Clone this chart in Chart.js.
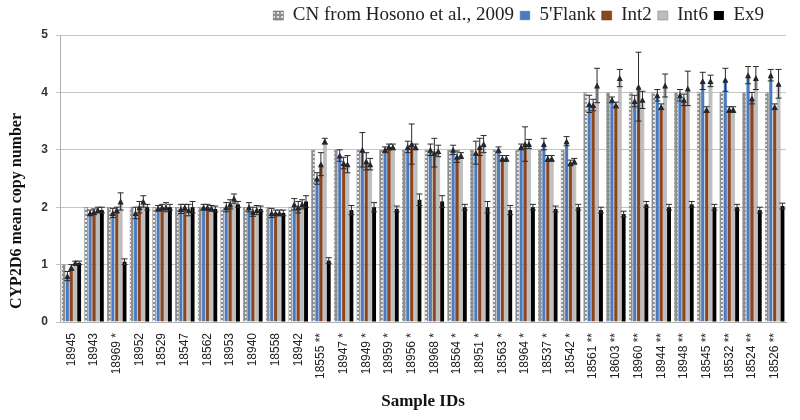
<!DOCTYPE html>
<html>
<head>
<meta charset="utf-8">
<script src="https://cdn.jsdelivr.net/npm/chart.js@4.4.1/dist/chart.umd.min.js"></script>
<style>
  html, body { margin: 0; padding: 0; background: #fff; }
  #wrap { width: 800px; height: 420px; }
</style>
</head>
<body>
<div id="wrap"><canvas id="chart"></canvas></div>
<script>
const sampleIds = ["18945", "18943", "18969 *", "18952", "18529", "18547", "18562", "18953", "18940", "18558", "18942",
  "18555 **", "18947 *", "18949 *", "18959 *", "18956 *", "18968 *", "18564 *", "18951 *", "18563 *", "18964 *", "18537 *", "18542 *",
  "18561 **", "18603 **", "18960 **", "18944 **", "18948 **", "18545 **", "18532 **", "18524 **", "18526 **"];

const cnValues = [1, 2, 2, 2, 2, 2, 2, 2, 2, 2, 2,
  3, 3, 3, 3, 3, 3, 3, 3, 3, 3, 3, 3,
  4, 4, 4, 4, 4, 4, 4, 4, 4];
const flank5 = [0.8, 1.9, 1.9, 1.9, 1.98, 1.97, 2.0, 2.0, 2.0, 1.9, 2.05,
  2.5, 2.9, 3.0, 3.0, 3.05, 3.0, 3.0, 2.95, 3.0, 3.05, 3.1, 3.15,
  3.8, 3.87, 3.85, 3.95, 3.95, 4.2, 4.22, 4.3, 4.3];
const int2 = [0.95, 1.92, 1.95, 2.0, 2.0, 2.0, 2.0, 2.05, 1.92, 1.9, 2.0,
  2.75, 2.77, 2.8, 3.05, 3.1, 2.95, 2.88, 3.05, 2.85, 3.1, 2.85, 2.77,
  3.78, 3.78, 4.1, 3.75, 3.87, 3.7, 3.7, 3.9, 3.75];
const int6 = [1.03, 1.95, 2.1, 2.1, 2.0, 1.95, 1.98, 2.15, 1.95, 1.9, 2.05,
  3.15, 2.75, 2.75, 3.05, 3.05, 2.98, 2.9, 3.1, 2.85, 3.1, 2.85, 2.8,
  4.12, 4.25, 3.87, 4.12, 4.07, 4.2, 3.7, 4.25, 4.15];
const ex9 = [1.03, 1.95, 1.05, 2.0, 2.0, 2.0, 1.97, 2.05, 1.97, 1.9, 2.1,
  1.07, 1.95, 2.0, 1.97, 2.13, 2.1, 2.0, 2.0, 1.95, 2.0, 1.97, 2.0,
  1.95, 1.88, 2.05, 2.0, 2.05, 2.0, 2.0, 1.95, 2.02];

// error bar half-widths (copy number units)
const flank5Err = [0.08, 0.05, 0.08, 0.1, 0.05, 0.08, 0.05, 0.08, 0.08, 0.08, 0.1,
  0.1, 0.1, 0.3, 0.05, 0.1, 0.1, 0.08, 0.2, 0.05, 0.05, 0.1, 0.08,
  0.15, 0.05, 0.1, 0.1, 0.1, 0.15, 0.2, 0.15, 0.1];
const int2Err = [0.05, 0.05, 0.05, 0.1, 0.05, 0.05, 0.05, 0.08, 0.08, 0.05, 0.1,
  0.2, 0.1, 0.15, 0.05, 0.35, 0.25, 0.1, 0.15, 0.05, 0.3, 0.05, 0.05,
  0.1, 0.05, 0.6, 0.05, 0.1, 0.05, 0.05, 0.1, 0.05];
const int6Err = [0.03, 0.05, 0.15, 0.1, 0.08, 0.1, 0.05, 0.08, 0.08, 0.05, 0.08,
  0.05, 0.15, 0.1, 0.05, 0.05, 0.1, 0.05, 0.15, 0.05, 0.08, 0.05, 0.05,
  0.3, 0.15, 0.15, 0.2, 0.3, 0.1, 0.05, 0.2, 0.25];
const ex9Err = [0.03, 0.05, 0.05, 0.05, 0.05, 0.1, 0.05, 0.05, 0.05, 0.05, 0.1,
  0.05, 0.08, 0.08, 0.05, 0.1, 0.1, 0.05, 0.1, 0.08, 0.05, 0.05, 0.05,
  0.05, 0.05, 0.05, 0.05, 0.05, 0.05, 0.05, 0.05, 0.05];

const yTicks = [0, 1, 2, 3, 4, 5];
const yTitle = "CYP2D6 mean copy number";

// dotted grey fill for the CN bars
function makeCnPattern() {
  const c = document.createElement("canvas");
  c.width = 4;
  c.height = 4;
  const g = c.getContext("2d");
  g.fillStyle = "#8e8e8e";
  g.fillRect(0, 0, 4, 4);
  g.fillStyle = "#e8e8e8";
  g.fillRect(1, 0, 2, 2);
  return g.createPattern(c, "repeat");
}

// error bars + the little dark markers at the bar tops
const errorBars = {
  id: "errorBars",
  afterDatasetsDraw(chart) {
    const ctx = chart.ctx;
    const y = chart.scales.y;
    ctx.save();
    chart.data.datasets.forEach((ds, di) => {
      if (!ds.errors) return;
      const meta = chart.getDatasetMeta(di);
      meta.data.forEach((bar, i) => {
        const v = ds.data[i];
        const e = ds.errors[i];
        const top = y.getPixelForValue(v + e);
        const bot = y.getPixelForValue(v - e);
        if (ds.marker) {
          ctx.fillStyle = "#1e2530";
          ctx.beginPath();
          ctx.moveTo(bar.x, bar.y - 3);
          ctx.lineTo(bar.x + 3, bar.y + 3);
          ctx.lineTo(bar.x - 3, bar.y + 3);
          ctx.closePath();
          ctx.fill();
        }
        ctx.strokeStyle = "#2a2a2a";
        ctx.lineWidth = 1;
        ctx.beginPath();
        ctx.moveTo(bar.x, top);
        ctx.lineTo(bar.x, bot);
        ctx.moveTo(bar.x - 3, top);
        ctx.lineTo(bar.x + 3, top);
        ctx.moveTo(bar.x - 3, bot);
        ctx.lineTo(bar.x + 3, bot);
        ctx.stroke();
      });
    });
    ctx.restore();
  }
};

// legend box height/offset, and the y title placed like the original (a bit low)
const extras = {
  id: "extras",
  beforeInit(chart) {
    const fit = chart.legend.fit;
    chart.legend.fit = function () {
      fit.call(this);
      this.height += 0;
    };
  },
  afterLayout(chart) {
    chart.legend.right -= 16;
  },
  afterDraw(chart) {
    const ctx = chart.ctx;
    ctx.save();
    ctx.translate(17, 211);
    ctx.rotate(-Math.PI / 2);
    ctx.font = "bold 16px 'Liberation Serif'";
    ctx.fillStyle = "#111";
    ctx.textAlign = "center";
    ctx.textBaseline = "middle";
    ctx.fillText(yTitle, 0, 0);
    ctx.restore();
  }
};

const ctx = document.getElementById("chart").getContext("2d");
new Chart(ctx, {
  type: "bar",
  data: {
    labels: sampleIds,
    datasets: [
      {
        label: "CN from Hosono et al., 2009",
        data: cnValues,
        backgroundColor: makeCnPattern(),
        borderColor: "#555",
        borderWidth: 0.5,
      },
      {
        label: "5'Flank",
        data: flank5,
        errors: flank5Err,
        marker: true,
        backgroundColor: "#4a7bbf",
        borderColor: "#8fb0dc",
        borderWidth: 0.5,
      },
      {
        label: "Int2",
        data: int2,
        errors: int2Err,
        marker: true,
        backgroundColor: "#8a4621",
        borderColor: "#6d3515",
        borderWidth: 0.5,
      },
      {
        label: "Int6",
        data: int6,
        errors: int6Err,
        marker: true,
        backgroundColor: "#bdbdbd",
        borderColor: "#777",
        borderWidth: 0.5,
      },
      {
        label: "Ex9",
        data: ex9,
        errors: ex9Err,
        backgroundColor: "#000",
        borderColor: "#000",
        borderWidth: 0,
      },
    ],
  },
  options: {
    responsive: true,
    maintainAspectRatio: false,
    animation: false,
    datasets: {
      bar: { categoryPercentage: 0.86, barPercentage: 1.0 },
    },
    layout: {
      padding: { top: 0, right: 14, left: 0, bottom: 0 },
    },
    plugins: {
      legend: {
        display: true,
        position: "top",
        align: "end",
        labels: {
          boxWidth: 10,
          boxHeight: 9,
          padding: 6,
          color: "#222",
          font: { family: "Liberation Serif", size: 19 },
        },
      },
      tooltip: { enabled: false },
    },
    scales: {
      y: {
        min: 0,
        max: 5,
        afterBuildTicks(axis) {
          axis.ticks = yTicks.map((v) => ({ value: v }));
        },
        afterFit(axis) {
          axis.width = 60;
        },
        grid: { color: "#c4c4c4", tickLength: 4 },
        border: { color: "#b0b0b0" },
        ticks: {
          color: "#333",
          padding: 8,
          font: { family: "Liberation Sans", size: 12, weight: "bold" },
        },
        title: { display: false },
      },
      x: {
        afterFit(axis) {
          axis.height = 98;
        },
        grid: { display: false },
        border: { color: "#b0b0b0" },
        ticks: {
          minRotation: 90,
          maxRotation: 90,
          autoSkip: false,
          color: "#222",
          padding: 3,
          font: { family: "Liberation Sans", size: 12 },
        },
        title: {
          display: true,
          text: "Sample IDs",
          color: "#111",
          font: { family: "Liberation Serif", size: 17, weight: "bold" },
          padding: { top: 0, bottom: 8 },
        },
      },
    },
  },
  plugins: [errorBars, extras],
});
</script>
</body>
</html>
